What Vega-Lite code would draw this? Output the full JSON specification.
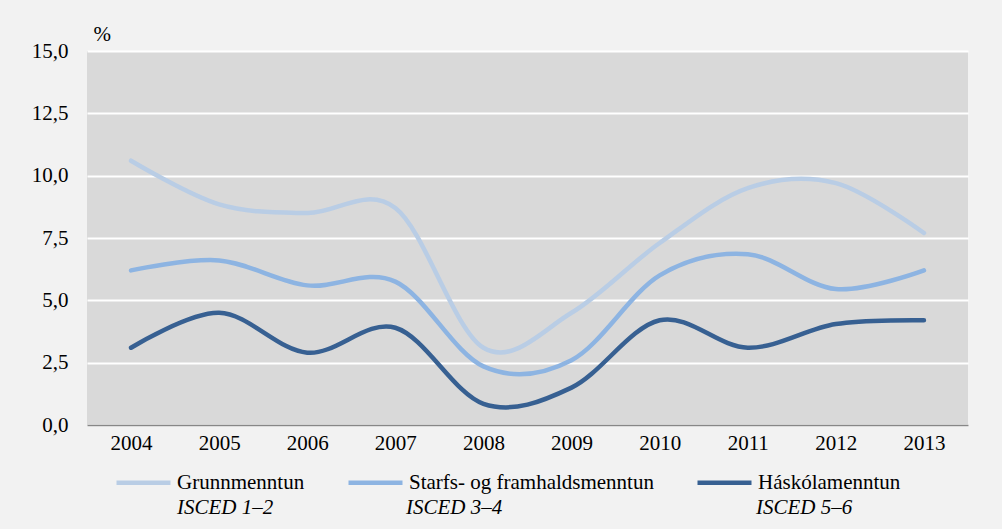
{
  "$schema": "https://vega.github.io/schema/vega-lite/v6.json",
  "width": 881,
  "height": 374,
  "autosize": {"type": "none"},
  "padding": {"left": 87, "top": 51, "right": 34, "bottom": 104},
  "background": "#f2f2f2",
  "config": {
    "view": {"fill": "#d9d9d9", "stroke": null},
    "font": "Liberation Serif",
    "axis": {"labelFont": "Liberation Serif", "labelFontSize": 21, "labelColor": "#000000", "titleFont": "Liberation Serif", "titleColor": "#000000"},
    "legend": {"labelFont": "Liberation Serif", "labelFontSize": 21, "labelColor": "#000000"}
  },
  "data": {
    "values": [
      {"year": "2004", "series": "Grunnmenntun", "isced": "ISCED 1–2", "value": 10.6},
      {"year": "2005", "series": "Grunnmenntun", "isced": "ISCED 1–2", "value": 8.85},
      {"year": "2006", "series": "Grunnmenntun", "isced": "ISCED 1–2", "value": 8.5},
      {"year": "2007", "series": "Grunnmenntun", "isced": "ISCED 1–2", "value": 8.7},
      {"year": "2008", "series": "Grunnmenntun", "isced": "ISCED 1–2", "value": 3.1},
      {"year": "2009", "series": "Grunnmenntun", "isced": "ISCED 1–2", "value": 4.5},
      {"year": "2010", "series": "Grunnmenntun", "isced": "ISCED 1–2", "value": 7.3},
      {"year": "2011", "series": "Grunnmenntun", "isced": "ISCED 1–2", "value": 9.5},
      {"year": "2012", "series": "Grunnmenntun", "isced": "ISCED 1–2", "value": 9.7},
      {"year": "2013", "series": "Grunnmenntun", "isced": "ISCED 1–2", "value": 7.7},
      {"year": "2004", "series": "Starfs- og framhaldsmenntun", "isced": "ISCED 3–4", "value": 6.2},
      {"year": "2005", "series": "Starfs- og framhaldsmenntun", "isced": "ISCED 3–4", "value": 6.6},
      {"year": "2006", "series": "Starfs- og framhaldsmenntun", "isced": "ISCED 3–4", "value": 5.6},
      {"year": "2007", "series": "Starfs- og framhaldsmenntun", "isced": "ISCED 3–4", "value": 5.75},
      {"year": "2008", "series": "Starfs- og framhaldsmenntun", "isced": "ISCED 3–4", "value": 2.35},
      {"year": "2009", "series": "Starfs- og framhaldsmenntun", "isced": "ISCED 3–4", "value": 2.6},
      {"year": "2010", "series": "Starfs- og framhaldsmenntun", "isced": "ISCED 3–4", "value": 6.0},
      {"year": "2011", "series": "Starfs- og framhaldsmenntun", "isced": "ISCED 3–4", "value": 6.85},
      {"year": "2012", "series": "Starfs- og framhaldsmenntun", "isced": "ISCED 3–4", "value": 5.45},
      {"year": "2013", "series": "Starfs- og framhaldsmenntun", "isced": "ISCED 3–4", "value": 6.2},
      {"year": "2004", "series": "Háskólamenntun", "isced": "ISCED 5–6", "value": 3.1},
      {"year": "2005", "series": "Háskólamenntun", "isced": "ISCED 5–6", "value": 4.5},
      {"year": "2006", "series": "Háskólamenntun", "isced": "ISCED 5–6", "value": 2.9},
      {"year": "2007", "series": "Háskólamenntun", "isced": "ISCED 5–6", "value": 3.9},
      {"year": "2008", "series": "Háskólamenntun", "isced": "ISCED 5–6", "value": 0.85},
      {"year": "2009", "series": "Háskólamenntun", "isced": "ISCED 5–6", "value": 1.5},
      {"year": "2010", "series": "Háskólamenntun", "isced": "ISCED 5–6", "value": 4.2},
      {"year": "2011", "series": "Háskólamenntun", "isced": "ISCED 5–6", "value": 3.1},
      {"year": "2012", "series": "Háskólamenntun", "isced": "ISCED 5–6", "value": 4.05},
      {"year": "2013", "series": "Háskólamenntun", "isced": "ISCED 5–6", "value": 4.2}
    ]
  },
  "encoding": {
    "x": {
      "field": "year", "type": "ordinal",
      "scale": {"type": "point", "padding": 0.5},
      "axis": {"title": null, "labelAngle": 0, "ticks": false, "domain": true, "domainColor": "#878787", "domainWidth": 1.5, "grid": false, "labelPadding": 7}
    },
    "y": {
      "field": "value", "type": "quantitative",
      "scale": {"domain": [0, 15], "nice": false, "zero": true},
      "axis": {
        "values": [0, 2.5, 5, 7.5, 10, 12.5, 15],
        "labelExpr": "replace(format(datum.value, '.1f'), '.', ',')",
        "domain": false, "ticks": false, "grid": true, "gridColor": "#ffffff", "gridWidth": 2.2,
        "labelPadding": 19,
        "title": "%", "titleAngle": 0, "titleAlign": "left", "titleBaseline": "alphabetic",
        "titleX": 6, "titleY": -11, "titleFontSize": 21, "titleFontWeight": "normal"
      }
    },
    "color": {
      "field": "series", "type": "nominal",
      "scale": {"domain": ["Grunnmenntun", "Starfs- og framhaldsmenntun", "Háskólamenntun"], "range": ["#b9cde5", "#8db4e2", "#376092"]},
      "legend": {
        "title": null, "orient": "none", "legendX": 27, "legendY": 402, "direction": "horizontal",
        "symbolType": "stroke", "symbolSize": 2916, "symbolStrokeWidth": 4.5,
        "labelOffset": 4, "columnPadding": 34, "labelLimit": 0
      }
    }
  },
  "layer": [
    {
      "transform": [{"filter": "datum.series == 'Grunnmenntun'"}],
      "mark": {"type": "line", "interpolate": "cardinal", "strokeWidth": 4.5, "strokeCap": "round"},
      "encoding": {
        "opacity": {
          "field": "isced", "type": "ordinal", "scale": {"range": [1, 1]},
          "legend": {"title": null, "orient": "none", "legendX": 69, "legendY": 446, "symbolType": "circle", "symbolSize": 1, "symbolOpacity": 0, "symbolStrokeWidth": 0, "labelOffset": 0, "labelLimit": 0, "labelFontStyle": "italic"}
        }
      }
    },
    {
      "transform": [{"filter": "datum.series == 'Starfs- og framhaldsmenntun'"}],
      "mark": {"type": "line", "interpolate": "cardinal", "strokeWidth": 4.5, "strokeCap": "round"},
      "encoding": {
        "opacity": {
          "field": "isced", "type": "ordinal", "scale": {"range": [1, 1]},
          "legend": {"title": null, "orient": "none", "legendX": 298, "legendY": 446, "symbolType": "circle", "symbolSize": 1, "symbolOpacity": 0, "symbolStrokeWidth": 0, "labelOffset": 0, "labelLimit": 0, "labelFontStyle": "italic"}
        }
      }
    },
    {
      "transform": [{"filter": "datum.series == 'Háskólamenntun'"}],
      "mark": {"type": "line", "interpolate": "cardinal", "strokeWidth": 4.5, "strokeCap": "round"},
      "encoding": {
        "opacity": {
          "field": "isced", "type": "ordinal", "scale": {"range": [1, 1]},
          "legend": {"title": null, "orient": "none", "legendX": 648, "legendY": 446, "symbolType": "circle", "symbolSize": 1, "symbolOpacity": 0, "symbolStrokeWidth": 0, "labelOffset": 0, "labelLimit": 0, "labelFontStyle": "italic"}
        }
      }
    }
  ],
  "resolve": {"scale": {"opacity": "independent"}, "legend": {"opacity": "independent"}}
}
